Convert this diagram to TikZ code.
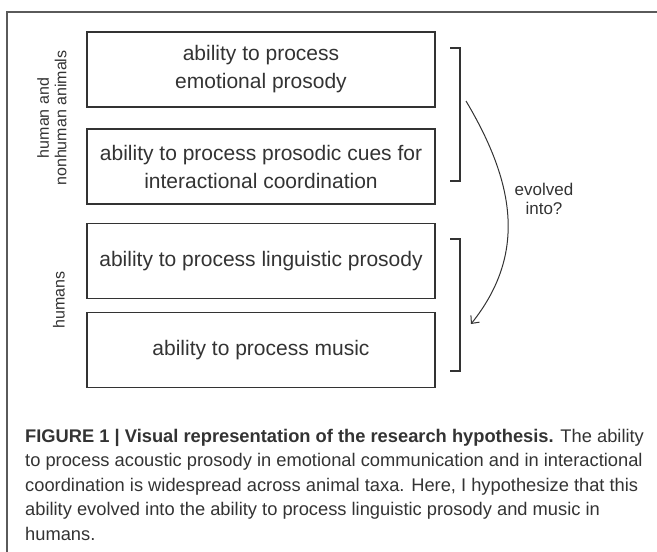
\documentclass[tikz,border=0pt]{standalone}
\usepackage{fontspec}
\setmainfont{Liberation Sans}
\usetikzlibrary{arrows.meta}
\definecolor{ink}{HTML}{333333}
\definecolor{framegray}{HTML}{5A5A5A}
\begin{document}
\begin{tikzpicture}[x=1pt, y=-1pt,
    box/.style={draw=ink, line width=1.3pt, minimum width=348pt, minimum height=75pt,
      inner sep=0pt, align=center, text=ink, font=\fontsize{21}{28}\selectfont},
    sidelabel/.style={rotate=90, align=center, text=ink, font=\fontsize{16}{17.5}\selectfont},
    bracket/.style={draw=ink, line width=1.2pt}]
  \useasboundingbox (0,0) rectangle (657,552);
  % outer frame, open at right and bottom
  \draw[framegray, line width=1.2pt] (657,12) -- (7,12) -- (7,552);
  % the four abilities
  \node[box] (emotional) at (261,69.5) {ability to process\\emotional prosody};
  \node[box] (interact) at (261,166.5) {ability to process prosodic cues for\\interactional coordination};
  \node[box] (linguistic) at (261,261) {ability to process linguistic prosody};
  \node[box] (music) at (261,350) {ability to process music};
  % groups
  \node[sidelabel] (animals) at (52,118) {human and\\nonhuman animals};
  \node[sidelabel] (humans) at (59,300) {humans};
  \draw[bracket] (450,48) -- (460,48) -- (460,181) -- (450,181);
  \draw[bracket] (450,239) -- (460,239) -- (460,371) -- (450,371);
  % evolution arrow
  \coordinate (arcstart) at (466,101);
  \coordinate (arcend) at (471,324);
  \draw[ink, line width=1pt, -{Straight Barb[length=6pt, width=11pt]}]
    (arcstart) .. controls (516,185) and (526,255) .. (arcend);
  \node[text=ink, align=center, font=\fontsize{17}{19}\selectfont] (evolved) at (544,199) {evolved\\into?};
  % caption
  \node[anchor=north west, align=left, inner sep=0pt, text=ink,
    font=\fontsize{18.3}{24.4}\selectfont] (caption) at (25,429) {%
    \textbf{FIGURE 1 | Visual representation of the research hypothesis.} The ability\\
    to process acoustic prosody in emotional communication and in interactional\\
    coordination is widespread across animal taxa. Here, I hypothesize that this\\
    ability evolved into the ability to process linguistic prosody and music in\\
    humans.};
\end{tikzpicture}
\end{document}
